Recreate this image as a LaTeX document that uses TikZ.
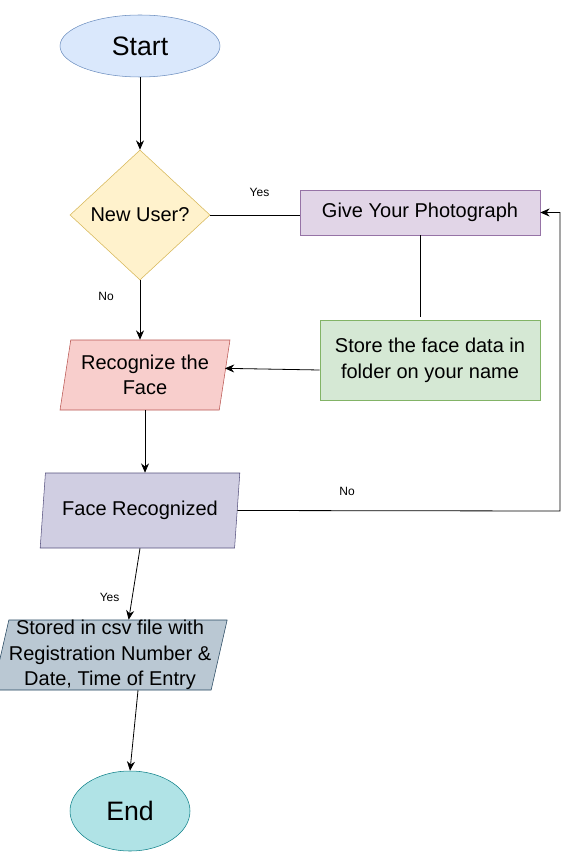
\documentclass[tikz,border=0pt]{standalone}
\usepackage{fontspec}
\setmainfont{Liberation Sans}
\usetikzlibrary{shapes.geometric,arrows.meta}

\definecolor{startfill}{HTML}{DAE8FC}
\definecolor{startline}{HTML}{6C8EBF}
\definecolor{userfill}{HTML}{FFF2CC}
\definecolor{userline}{HTML}{D6B656}
\definecolor{photofill}{HTML}{E1D5E7}
\definecolor{photoline}{HTML}{9673A6}
\definecolor{storefill}{HTML}{D5E8D4}
\definecolor{storeline}{HTML}{82B366}
\definecolor{recogfill}{HTML}{F8CECC}
\definecolor{recogline}{HTML}{B85450}
\definecolor{facefill}{HTML}{D0CEE2}
\definecolor{faceline}{HTML}{56517E}
\definecolor{csvfill}{HTML}{BAC8D3}
\definecolor{csvline}{HTML}{23445D}
\definecolor{endfill}{HTML}{B0E3E6}
\definecolor{endline}{HTML}{0E8088}

\tikzset{
  terminal/.style={ellipse, draw, inner sep=0pt, font=\fontsize{20}{24}\selectfont},
  boxnode/.style={rectangle, draw, inner sep=2pt, align=center, font=\fontsize{15}{19.5}\selectfont},
  ionode/.style={trapezium, trapezium stretches=true, trapezium left angle=77,
    trapezium right angle=103, draw, inner sep=0pt, align=center, font=\fontsize{15}{19}\selectfont},
  flow/.style={-{Stealth[length=7pt,width=6pt]}, line width=0.6pt},
  edgelabel/.style={font=\fontsize{9}{10}\selectfont}
}

\begin{document}
\begin{tikzpicture}[x=0.75pt,y=-0.75pt]
\useasboundingbox (0,0) rectangle (570,852);
% nodes
\node[terminal, fill=startfill, draw=startline, minimum width=120pt, minimum height=46.5pt] (start) at (140,46) {Start};
\node[diamond, draw=userline, fill=userfill, minimum width=105pt, minimum height=97.5pt, inner sep=0pt, font=\fontsize{15}{18}\selectfont] (user) at (140,215) {New User?};
\node[boxnode, fill=photofill, draw=photoline, minimum width=180pt, minimum height=33.75pt] (photo) at (420,212.5) {Give Your Photograph};
\node[boxnode, fill=storefill, draw=storeline, minimum width=165pt, minimum height=60pt] (store) at (430,360) {Store the face data in\\folder on your name};
\node[ionode, fill=recogfill, draw=recogline, minimum width=127.5pt, minimum height=52.5pt] (recog) at (145,375) {Recognize the\\Face};
\node[ionode, fill=facefill, draw=faceline, minimum width=150pt, minimum height=56.25pt] (face) at (140,510.5) {Face Recognized};
\node[ionode, fill=csvfill, draw=csvline, minimum width=165pt, minimum height=52.5pt] (csv) at (110,655) {Stored in csv file with\\Registration Number \&\\Date, Time of Entry};
\node[terminal, fill=endfill, draw=endline, minimum width=90pt, minimum height=60pt] (end) at (130,811) {End};
\coordinate (turn) at (560,511);

% connectors
\draw[flow] (start) -- (user);
\draw[line width=0.6pt] (user.east) -- (user.east -| photo.west) node[edgelabel, pos=0.55, above=10pt] {Yes};
\draw[line width=0.6pt] (photo.south) -- ([yshift=2pt]photo.south |- store.north);
\draw[flow] (user.south) -- (user.south |- recog.north) node[edgelabel, pos=0.27, left=16pt] {No};
\draw[flow] ([yshift=-7.5pt]store.west) -- ([yshift=5pt]recog.east);
\draw[flow] (recog.south) -- (recog.south |- face.north);
\draw[flow] (face.east) -- (turn) node[edgelabel, pos=0.34, above=8pt] {No} |- (photo.east);
\draw[flow] (face.south) -- ([xshift=14pt]csv.north) node[edgelabel, pos=0.69, left=6pt] {Yes};
\draw[flow] ([xshift=21pt]csv.south) -- (end.north);
\end{tikzpicture}
\end{document}
